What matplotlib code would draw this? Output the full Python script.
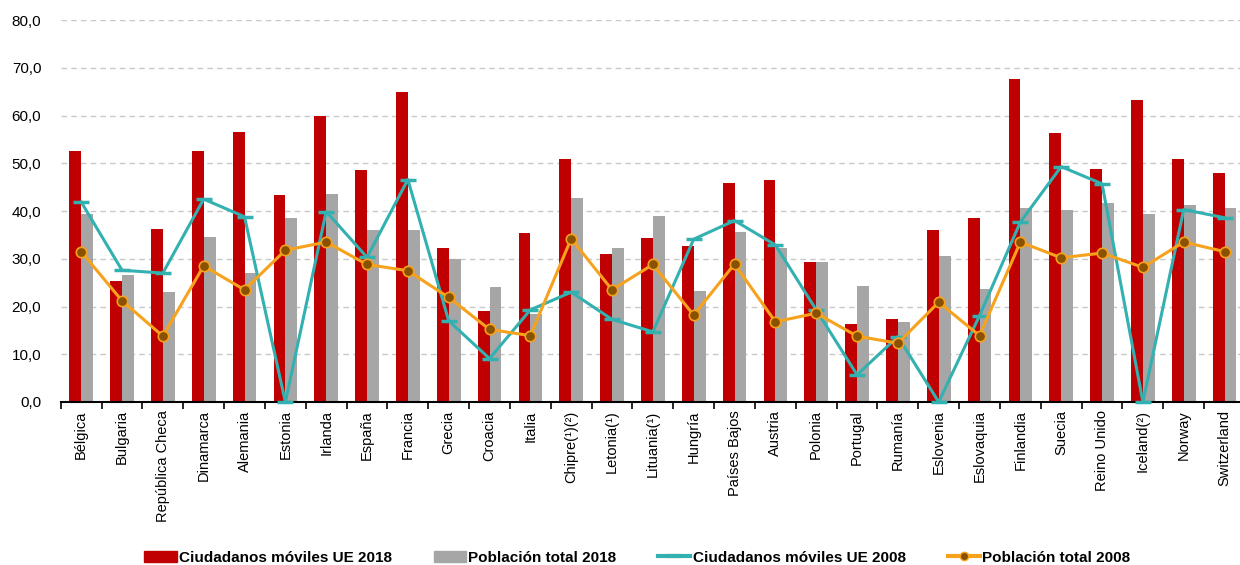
import matplotlib
matplotlib.use("Agg")
import matplotlib.pyplot as plt
import numpy as np
from matplotlib.lines import Line2D
from matplotlib.patches import Patch

countries = ["Bélgica", "Bulgaria", "República Checa", "Dinamarca", "Alemania", "Estonia",
             "Irlanda", "España", "Francia", "Grecia", "Croacia", "Italia", "Chipre(¹)(²)",
             "Letonia(¹)", "Lituania(¹)", "Hungría", "Países Bajos", "Austria", "Polonia",
             "Portugal", "Rumanía", "Eslovenia", "Eslovaquia", "Finlandia", "Suecia",
             "Reino Unido", "Iceland(²)", "Norway", "Switzerland"]

moviles_2018 = [52.6, 25.3, 36.3, 52.6, 56.5, 43.3, 60.0, 48.6, 64.9, 32.3, 19.0, 35.3, 50.9,
                31.0, 34.3, 32.7, 45.9, 46.6, 29.3, 16.3, 17.3, 36.0, 38.6, 67.6, 56.3,
                48.9, 63.2, 50.9, 47.9]
total_2018 = [39.3, 26.6, 23.0, 34.6, 27.0, 38.6, 43.6, 36.0, 36.0, 29.9, 24.0, 18.4, 42.7,
              32.3, 39.0, 23.3, 35.6, 32.3, 29.3, 24.3, 16.7, 30.6, 23.7, 40.6, 40.3,
              41.6, 39.3, 41.3, 40.6]
moviles_2008 = [41.9, 27.6, 27.0, 42.5, 38.8, 0.0, 39.9, 30.3, 46.6, 17.0, 9.1, 19.3, 23.0,
                17.3, 14.7, 34.1, 38.0, 32.9, 19.3, 5.7, 13.7, 0.0, 18.1, 37.7, 49.3,
                45.7, 0.0, 40.3, 38.6]
total_2008 = [31.5, 21.2, 13.8, 28.5, 23.5, 31.8, 33.5, 28.8, 27.5, 21.9, 15.2, 13.9, 34.2,
              23.5, 28.8, 18.2, 28.9, 16.8, 18.6, 13.8, 12.3, 20.9, 13.9, 33.5, 30.2,
              31.2, 28.2, 33.5, 31.5]

yticks = [0, 10, 20, 30, 40, 50, 60, 70, 80]

RED = "#c00000"
GREY = "#a6a6a6"
TEAL = "#33b0b0"
ORANGE = "#f7a21c"
BROWN = "#8a5200"

plt.rcParams['font.family'] = ['Liberation Sans', 'DejaVu Sans']

fig = plt.figure(figsize=(12.4, 5.65), dpi=100)
ax = fig.add_axes([0.049, 0.2885, 0.955, 0.676])

x = np.arange(len(countries))
w = 0.29
ax.bar(x - w / 2, moviles_2018, width=w, color=RED, zorder=2)
ax.bar(x + w / 2, total_2018, width=w, color=GREY, zorder=2)
ax.plot(x, moviles_2008, color=TEAL, lw=2.2, marker='_', ms=12, mew=2.5, zorder=3, clip_on=False)
ax.plot(x, total_2008, color=ORANGE, lw=2.2, marker='o', ms=7.5, mfc=BROWN, mec=ORANGE,
        mew=1.2, zorder=4, clip_on=False)

ax.set_xlim(-0.5, len(countries) - 0.5)
ax.set_ylim(0, 80)
ax.set_yticks(yticks)
ax.set_yticklabels([f"{v:.1f}".replace('.', ',') for v in yticks], fontsize=11)
ax.yaxis.grid(True, linestyle=(0, (4, 3)), color="#c8c8c8", lw=1.0, zorder=0)
ax.set_axisbelow(True)
ax.tick_params(axis='y', length=0, pad=14)

ax.set_xticks(x)
ax.set_xticklabels(countries, rotation=90, fontsize=10.5)
ax.tick_params(axis='x', which='major', length=0, pad=6)
ax.set_xticks(np.arange(-0.5, len(countries)), minor=True)
ax.tick_params(axis='x', which='minor', length=5, width=1.2, direction='out', color='black')

for s in ['top', 'right', 'left']:
    ax.spines[s].set_visible(False)
ax.spines['bottom'].set_linewidth(1.5)

handles = [
    Patch(color=RED, label="Ciudadanos móviles UE 2018"),
    Patch(color=GREY, label="Población total 2018"),
    Line2D([], [], color=TEAL, lw=3, marker='_', ms=10, mew=3, label="Ciudadanos móviles UE 2008"),
    Line2D([], [], color=ORANGE, lw=3, marker='o', ms=6, mfc=BROWN, mec=ORANGE,
           label="Población total 2008"),
]
fig.legend(handles=handles, loc='center', bbox_to_anchor=(0.514, 0.013), ncol=4, frameon=False,
           prop={'family': ['Liberation Sans Narrow', 'Liberation Sans'], 'weight': 'bold', 'size': 11},
           handlelength=2.1, handletextpad=0.15, columnspacing=2.75)

fig.savefig("out.png", dpi=100)
